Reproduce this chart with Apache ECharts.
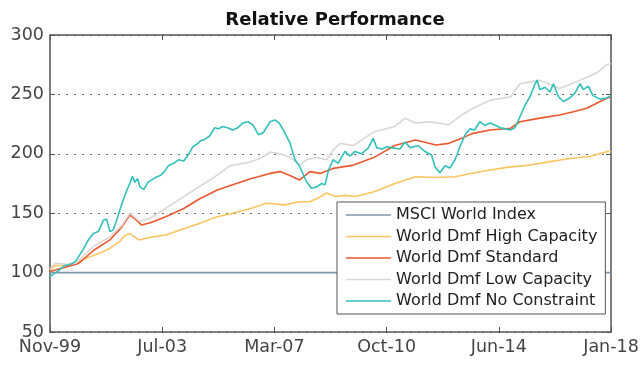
<!DOCTYPE html>
<html>
<head>
<meta charset="utf-8">
<script src="https://cdn.jsdelivr.net/npm/echarts@6/dist/echarts.min.js"></script>
<style>html,body{margin:0;padding:0;background:#fff}#c{width:642px;height:366px}</style>
</head>
<body>
<div id="c"></div>
<script>
// x values are months since Nov-1999
var tickLabels = ['Nov-99', 'Jul-03', 'Mar-07', 'Oct-10', 'Jun-14', 'Jan-18'];
var seriesNames = ['MSCI World Index', 'World Dmf High Capacity', 'World Dmf Standard', 'World Dmf Low Capacity', 'World Dmf No Constraint'];

var msciMonths = [0, 218];
var msciValues = [100, 100];

var highMonths = [0, 2, 6.5, 10, 14, 17, 20, 23, 27, 29, 31, 34.5, 39, 45, 52, 58, 65, 71, 78, 84, 91, 97, 101, 104, 107.5, 111, 114.6, 118.5, 126, 134, 142, 150, 157.4, 164, 171, 179, 186.5, 194.3, 202, 210, 216.3, 218];
var highValues = [102, 106, 106, 107.6, 112, 114.5, 117, 120, 126, 131, 133, 127.5, 129.7, 131.7, 137, 141.4, 147, 150, 154, 158.4, 157, 159.7, 159.7, 162.5, 167, 164, 165, 164, 168, 175, 180.7, 180, 180.7, 183.6, 186.4, 189, 190.5, 193.4, 196, 198, 201.8, 202];

var stdMonths = [0, 6, 11, 17, 23.3, 28, 31, 33.7, 35.6, 39, 45, 52, 58, 65, 71, 78, 85.5, 89.4, 93, 97, 101, 105, 110, 118, 126, 134, 142, 150, 155, 160, 164, 171, 179, 182.6, 190.4, 198, 203.4, 208.6, 216.3, 218];
var stdValues = [101, 104.5, 107.6, 118.8, 127.5, 138.7, 148.5, 144, 140, 142, 147, 154, 162, 169.5, 174, 179, 183.5, 185, 182, 178, 185, 183.5, 187.7, 190.5, 197, 207, 211.6, 207.4, 208.8, 213, 217, 220, 221.5, 227, 230, 232.7, 235.4, 238.3, 246.7, 248];

var lowMonths = [0, 2, 6.5, 10, 16.8, 23.3, 28, 31, 35, 39, 45, 52, 58, 63, 70, 77.7, 81.6, 85.5, 89.4, 93.3, 97.1, 99.7, 103.6, 107.5, 110, 112.7, 118, 126, 134, 138, 142, 148, 155, 160, 164, 171, 179, 182.6, 190.4, 198, 206, 212.5, 216.3, 218];
var lowValues = [103, 108, 107, 108, 122, 130, 140, 150, 143, 146, 154, 164, 172.5, 179, 190, 193, 196, 201.4, 200, 197, 190.5, 195, 197, 195, 203, 208.8, 207, 218.6, 223, 230, 226, 227, 224.5, 232.7, 238, 245, 248, 259, 262, 255, 262, 268, 275, 276];

var noConMonths = [0, 0.6, 3, 5.8, 8, 9.7, 11, 13, 14.9, 16.8, 18.8, 20.7, 22, 23.3, 24.6, 25.9, 27.9, 29.8, 31, 32, 33, 34, 35, 36.5, 38, 39.5, 41, 43, 44.5, 46, 48, 50, 52, 54, 55.5, 57, 58.5, 60, 62, 64, 65.5, 67, 69, 71, 73, 75, 77, 79, 81, 83, 85.5, 87.4, 89, 90.7, 93.3, 95.2, 97.1, 99.7, 101.6, 103.6, 105.5, 106.9, 108.2, 110, 112, 114.6, 116.6, 118.5, 121, 123.7, 125.6, 127, 129, 131, 133, 136, 138, 140, 143, 145.7, 148.3, 149.6, 151.5, 153.5, 155.4, 157.4, 159.3, 161.3, 163.2, 165, 167, 169, 171, 173, 175, 177, 179, 180.7, 182.6, 184.6, 186.5, 188.5, 189.3, 190.4, 192.4, 194.3, 195.6, 197.6, 199.5, 202, 204, 206, 207.2, 209.2, 211, 213.7, 216.3, 218];
var noConValues = [96, 97.7, 101, 106, 107, 109, 113, 120, 127.5, 133, 134.5, 144, 145, 134.5, 136, 144, 158, 169, 175, 181, 176, 179, 172, 170, 176, 178, 180, 182, 185, 190, 192, 195, 194, 200, 206, 208, 211, 212, 215, 222, 221, 223, 222, 220, 222, 226, 227, 224, 216, 218, 227, 228.5, 226, 220, 209, 195, 189, 176.5, 171, 172, 175, 174, 186, 195, 192, 202, 198, 202, 200, 205, 213, 205, 204, 206, 205, 204, 210, 205, 207, 202, 199, 189, 184, 190, 188, 195, 206, 216, 221, 220, 227, 224, 226, 224, 222, 221, 220, 222, 231, 241, 248, 259, 262, 254, 256, 252, 259, 248, 244, 247, 251, 259, 254, 257, 249, 246, 247, 249];

var colors = ['#7f97ad', '#fbc45f', '#e9582f', '#dcd6d4', '#32c0ba'];

function pairs(ms, vs) { return ms.map(function (m, i) { return [m, vs[i]]; }); }
var allData = [pairs(msciMonths, msciValues), pairs(highMonths, highValues), pairs(stdMonths, stdValues), pairs(lowMonths, lowValues), pairs(noConMonths, noConValues)];

var axisCol = '#555';
var labelFont = 'DejaVu Sans';
var xSpan = 218, xStep = 43.6;

function xAxisBase(pos, showLabel) {
  return {
    type: 'value', position: pos, min: 0, max: xSpan, interval: xStep,
    axisLine: { show: true, onZero: false, lineStyle: { color: axisCol, width: 1.5 } },
    axisTick: { show: true, inside: true, length: 5, lineStyle: { color: axisCol, width: 1 } },
    axisLabel: showLabel ? {
      show: true, color: '#444', fontSize: 17.5, fontFamily: labelFont, margin: 6,
      showMinLabel: true, showMaxLabel: true,
      formatter: function (v) { return tickLabels[Math.round(v / xStep)] || ''; }
    } : { show: false },
    splitLine: { show: false }
  };
}
function yAxisBase(pos, showLabel) {
  return {
    type: 'value', position: pos, min: 50, max: 300, interval: 50,
    axisLine: { show: true, onZero: false, lineStyle: { color: axisCol, width: 1.5 } },
    axisTick: { show: true, inside: true, length: 5, lineStyle: { color: axisCol, width: 1 } },
    axisLabel: showLabel ? { show: true, color: '#444', fontSize: 17.5, fontFamily: labelFont, margin: 6 } : { show: false },
    splitLine: showLabel ? { show: true, lineStyle: { color: '#666', type: [2, 6], width: 1.2 } } : { show: false }
  };
}

var chart = echarts.init(document.getElementById('c'), null, { renderer: 'canvas' });
chart.setOption({
  animation: false,
  backgroundColor: '#fff',
  title: {
    text: 'Relative Performance', left: 330, top: 6, textAlign: 'center',
    textStyle: { fontSize: 18, fontWeight: 'bold', color: '#111', fontFamily: labelFont }
  },
  grid: { left: 50, right: 31, top: 35, bottom: 34, containLabel: false },
  xAxis: [xAxisBase('bottom', true), xAxisBase('top', false)],
  yAxis: [yAxisBase('left', true), yAxisBase('right', false)],
  legend: {
    orient: 'vertical', left: 337, top: 202,
    padding: [5, 8, 5, 9], itemGap: 5.5, itemWidth: 45, itemHeight: 16,
    icon: 'path://M0,0 L45,0 L45,1.5 L0,1.5 Z',
    backgroundColor: '#fff', borderColor: '#555', borderWidth: 1,
    textStyle: { fontSize: 16, color: '#222', fontFamily: labelFont },
    data: seriesNames
  },
  series: seriesNames.map(function (n, i) {
    return {
      name: n, type: 'line', data: allData[i], symbol: 'none', smooth: false,
      xAxisIndex: 0, yAxisIndex: 0,
      lineStyle: { color: colors[i], width: 1.6 }, itemStyle: { color: colors[i] }
    };
  })
});
</script>
</body>
</html>
